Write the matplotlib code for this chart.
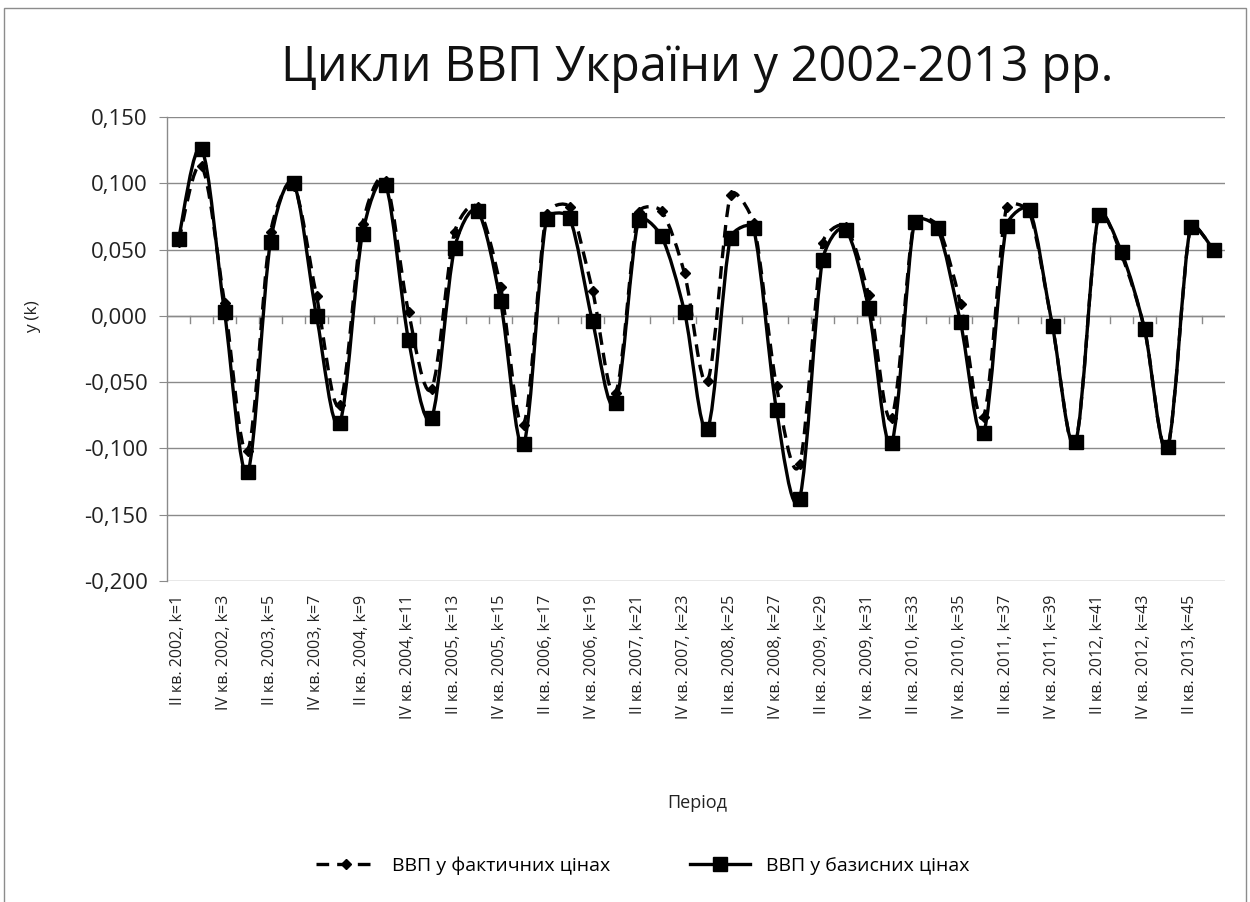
import matplotlib
matplotlib.use("Agg")
import matplotlib.pyplot as plt
import numpy as np
from matplotlib.path import Path
from matplotlib.patches import PathPatch, Rectangle
from matplotlib.lines import Line2D
from matplotlib.ticker import FuncFormatter, FixedLocator

plt.rcParams['font.family'] = ['Open Sans', 'DejaVu Sans']

# ---------------- data ----------------
categories = [
    "II кв. 2002, k=1", "III кв. 2002, k=2", "IV кв. 2002, k=3", "I кв. 2003, k=4",
    "II кв. 2003, k=5", "III кв. 2003, k=6", "IV кв. 2003, k=7", "I кв. 2004, k=8",
    "II кв. 2004, k=9", "III кв. 2004, k=10", "IV кв. 2004, k=11", "I кв. 2005, k=12",
    "II кв. 2005, k=13", "III кв. 2005, k=14", "IV кв. 2005, k=15", "I кв. 2006, k=16",
    "II кв. 2006, k=17", "III кв. 2006, k=18", "IV кв. 2006, k=19", "I кв. 2007, k=20",
    "II кв. 2007, k=21", "III кв. 2007, k=22", "IV кв. 2007, k=23", "I кв. 2008, k=24",
    "II кв. 2008, k=25", "III кв. 2008, k=26", "IV кв. 2008, k=27", "I кв. 2009, k=28",
    "II кв. 2009, k=29", "III кв. 2009, k=30", "IV кв. 2009, k=31", "I кв. 2010, k=32",
    "II кв. 2010, k=33", "III кв. 2010, k=34", "IV кв. 2010, k=35", "I кв. 2011, k=36",
    "II кв. 2011, k=37", "III кв. 2011, k=38", "IV кв. 2011, k=39", "I кв. 2012, k=40",
    "II кв. 2012, k=41", "III кв. 2012, k=42", "IV кв. 2012, k=43", "I кв. 2013, k=44",
    "II кв. 2013, k=45", "III кв. 2013, k=46",
]

vvp_fact = [
    0.056, 0.113, 0.010, -0.102, 0.063, 0.098, 0.015, -0.067, 0.069, 0.102,
    0.003, -0.055, 0.063, 0.082, 0.022, -0.082, 0.077, 0.082, 0.019, -0.058,
    0.078, 0.079, 0.032, -0.049, 0.091, 0.070, -0.053, -0.112, 0.055, 0.067,
    0.016, -0.077, 0.072, 0.068, 0.009, -0.076, 0.082, 0.078, -0.008, -0.095,
    0.076, 0.046, -0.010, -0.099, 0.067, 0.050,
]

vvp_baz = [
    0.058, 0.126, 0.003, -0.118, 0.056, 0.100, 0.000, -0.081, 0.062, 0.099,
    -0.018, -0.077, 0.051, 0.079, 0.011, -0.097, 0.073, 0.074, -0.004, -0.066,
    0.072, 0.060, 0.003, -0.085, 0.059, 0.066, -0.071, -0.138, 0.042, 0.065,
    0.006, -0.096, 0.071, 0.066, -0.005, -0.088, 0.068, 0.080, -0.008, -0.095,
    0.076, 0.048, -0.010, -0.099, 0.067, 0.050,
]

title = "Цикли ВВП України у 2002-2013 рр."
ylabel = "y (k)"
xlabel = "Період"
legend_labels = ["ВВП у фактичних цінах", "ВВП у базисних цінах"]
yticks = [0.150, 0.100, 0.050, 0.000, -0.050, -0.100, -0.150, -0.200]

# ---------------- figure ----------------
W, H = 1250, 902
fig = plt.figure(figsize=(W / 100, H / 100), dpi=100)
fig.patch.set_facecolor("white")

# chart-area border
fig.patches.append(Rectangle((4 / W, -0.02), 1 - 8 / W, 1 - 8 / H + 0.02,
                             transform=fig.transFigure, fill=False,
                             edgecolor="#8c8c8c", linewidth=1.0))

left, right = 167 / W, 1225 / W
top, bottom = 1 - 117 / H, 1 - 581 / H
ax = fig.add_axes([left, bottom, right - left, top - bottom])

n = len(categories)
x = np.arange(1, n + 1)
ax.set_xlim(0.5, n + 0.5)
ax.set_ylim(-0.200, 0.150)

grid_col = "#8a8a8a"
for v in yticks:
    ax.axhline(v, color=grid_col, lw=1.0, zorder=1)

for s in ["top", "right", "bottom"]:
    ax.spines[s].set_visible(False)
ax.spines["left"].set_color(grid_col)
ax.spines["left"].set_linewidth(1.0)

# y-axis
ax.yaxis.set_major_locator(FixedLocator(yticks))
ax.yaxis.set_major_formatter(FuncFormatter(lambda v, p: f"{v:.3f}".replace(".", ",").replace("-0,000", "0,000")))
ax.tick_params(axis="y", direction="out", length=6, color=grid_col, labelsize=16, pad=8, labelcolor="#222222")

# x-axis: labels at bottom, every second category
ax.xaxis.set_major_locator(FixedLocator(x[::2]))
ax.set_xticklabels(categories[::2], rotation=90, fontsize=11.5, color="#222222")
ax.tick_params(axis="x", length=0, pad=10)

fig.text(33 / W, 1 - 317 / H, ylabel, rotation=90, ha="center", va="center",
         fontsize=12.5, color="#222222")
fig.text(697 / W, 1 - 803 / H, xlabel, ha="center", va="center",
         fontsize=13, color="#222222")

# horizontal axis at y=0 with tick marks between categories
ax.axhline(0, color=grid_col, lw=1.0, zorder=1)
for b in np.arange(1.5, n + 0.5, 1.0):
    ax.plot([b, b], [0, -0.0055], color=grid_col, lw=1.0, zorder=1)

# pixel scale used for smoothing (spline computed in display-like space)
px_per_cat = (right - left) * W / n
px_per_unit = (top - bottom) * H / 0.35


def smooth_path(xs, ys):
    P = np.column_stack([np.asarray(xs, float) * px_per_cat,
                         np.asarray(ys, float) * px_per_unit])
    m = len(P)
    verts = [tuple(P[0])]
    codes = [Path.MOVETO]
    for i in range(m - 1):
        p0 = P[max(i - 1, 0)]
        p1 = P[i]
        p2 = P[i + 1]
        p3 = P[min(i + 2, m - 1)]
        d = np.linalg.norm(p2 - p1)
        v1 = (p2 - p0) / 6.0
        v2 = (p3 - p1) / 6.0
        lim = d / 3.0
        n1 = np.linalg.norm(v1)
        n2 = np.linalg.norm(v2)
        if n1 > lim:
            v1 = v1 * lim / n1
        if n2 > lim:
            v2 = v2 * lim / n2
        c1 = p1 + v1
        c2 = p2 - v2
        verts += [tuple(c1), tuple(c2), tuple(p2)]
        codes += [Path.CURVE4] * 3
    verts = [(vx / px_per_cat, vy / px_per_unit) for vx, vy in verts]
    return Path(verts, codes)


dash = (0, (3.8, 2.4))
ax.add_patch(PathPatch(smooth_path(x, vvp_fact), fill=False, edgecolor="black",
                       lw=2.4, linestyle=dash, zorder=3, capstyle="butt"))
ax.plot(x, vvp_fact, linestyle="none", marker="D", markersize=5,
        color="black", zorder=4)

ax.add_patch(PathPatch(smooth_path(x, vvp_baz), fill=False, edgecolor="black",
                       lw=2.4, zorder=5))
ax.plot(x, vvp_baz, linestyle="none", marker="s", markersize=9.5,
        color="black", zorder=6)

# title
fig.text(697 / W, 1 - 68 / H, title, ha="center", va="center", fontsize=35, color="#111111")

# legend
h1 = Line2D([], [], color="black", lw=2.4, linestyle=dash, marker="D", markersize=5)
h2 = Line2D([], [], color="black", lw=2.4, marker="s", markersize=9.5)
fig.legend([h1, h2], legend_labels, loc="center", bbox_to_anchor=(0.514, 1 - 866 / H),
           ncol=2, frameon=False, fontsize=14, handlelength=3.1, columnspacing=4.1,
           handletextpad=0.8)

fig.savefig("out.png", dpi=100, facecolor="white")
